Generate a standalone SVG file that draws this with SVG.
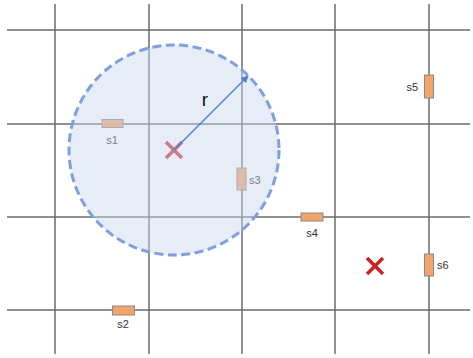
<svg xmlns="http://www.w3.org/2000/svg" width="473" height="358" viewBox="0 0 473 358">
<defs>
<style>
.grid line{stroke:#6b6b6b;stroke-width:1.5}
.sensor{fill:#f4a46a;stroke:#8a8a8a;stroke-width:1}
.lbl{font-family:"Liberation Sans",Arial,sans-serif;font-size:11px;fill:#333}
.xmark{stroke-width:3.5;stroke-linecap:butt}
</style>
<marker id="ah" viewBox="0 0 10 10" refX="9" refY="5" markerWidth="6" markerHeight="6" orient="auto">
<path d="M0,0 L10,5 L0,10 z" fill="#4a7bd8"/>
</marker>
</defs>
<rect width="473" height="358" fill="#fff"/>
<g class="grid">
<line x1="7" y1="30" x2="470" y2="30"/>
<line x1="7" y1="124" x2="470" y2="124"/>
<line x1="7" y1="217" x2="470" y2="217"/>
<line x1="7" y1="310" x2="470" y2="310"/>
<line x1="55" y1="4" x2="55" y2="354"/>
<line x1="149" y1="4" x2="149" y2="354"/>
<line x1="242" y1="4" x2="242" y2="354"/>
<line x1="335" y1="4" x2="335" y2="354"/>
<line x1="429" y1="4" x2="429" y2="354"/>
</g>
<g id="s1"><rect class="sensor" x="102" y="119.5" width="21" height="8"/><text class="lbl" x="112" y="144" text-anchor="middle">s1</text></g>
<g id="s3"><rect class="sensor" x="237" y="168" width="9" height="22"/><text class="lbl" x="249" y="184">s3</text></g>
<g id="center"><path class="xmark" d="M166,142 L182,158 M182,142 L166,158" stroke="#cc3333"/></g>
<g id="range"><circle cx="174" cy="150" r="105" fill="#c8d6ee" fill-opacity="0.45" stroke="#7f9fdf" stroke-width="3" stroke-dasharray="9 4.5"/></g>
<g id="connectors"><path d="M174,150 L248,76" fill="none" stroke="#4a7bd8" stroke-width="1.2" marker-end="url(#ah)"/></g>
<text x="205" y="106" font-family="Liberation Sans,Arial,sans-serif" font-size="19" fill="#111" text-anchor="middle">r</text>
<g id="s2"><rect class="sensor" x="112.5" y="306" width="22" height="9"/><text class="lbl" x="123" y="328" text-anchor="middle">s2</text></g>
<g id="s4"><rect class="sensor" x="301" y="213" width="22" height="8"/><text class="lbl" x="312" y="237" text-anchor="middle">s4</text></g>
<g id="s5"><rect class="sensor" x="424.5" y="75" width="9" height="23"/><text class="lbl" x="418" y="91" text-anchor="end">s5</text></g>
<g id="s6"><rect class="sensor" x="424.5" y="254" width="9" height="22"/><text class="lbl" x="437" y="269">s6</text></g>
<g id="target"><path class="xmark" d="M367,258 L383,274 M383,258 L367,274" stroke="#cc2222"/></g>
</svg>
